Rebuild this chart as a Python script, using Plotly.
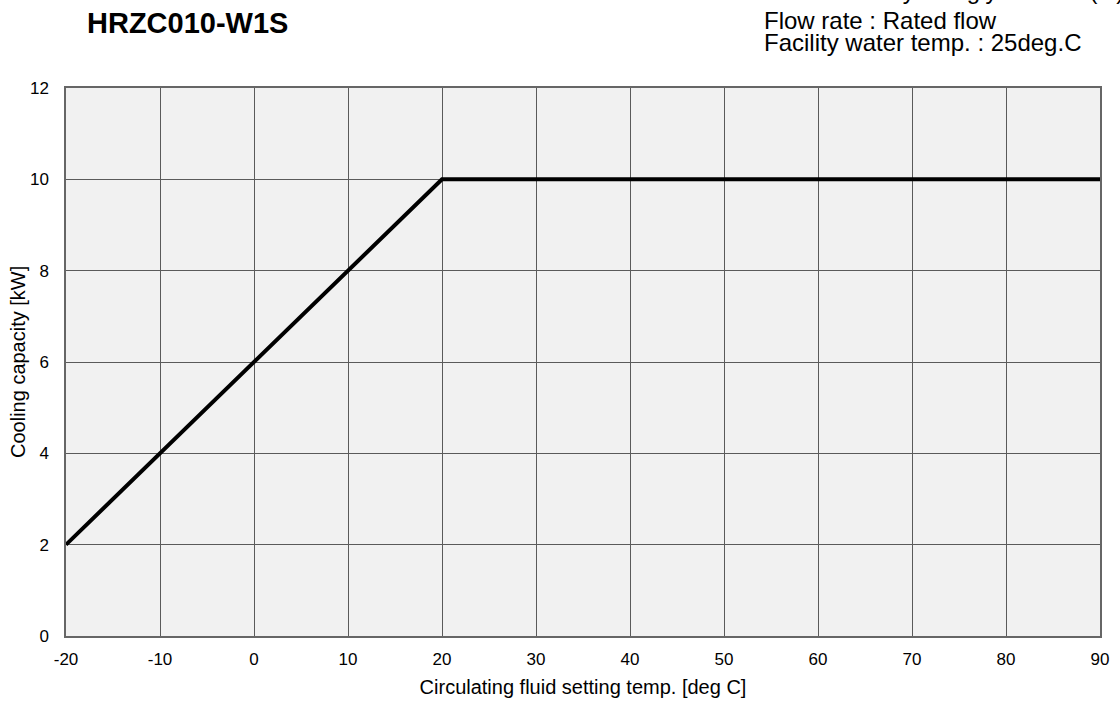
import plotly.graph_objects as go

# Data
temp_c = [-20, 20, 90]
capacity_kw = [2, 10, 10]
x_ticks = [-20, -10, 0, 10, 20, 30, 40, 50, 60, 70, 80, 90]
y_ticks = [0, 2, 4, 6, 8, 10, 12]

title_text = "HRZC010-W1S"
cond_lines = [
    "Coolant : Ethylene glycol 15% (G)",
    "Flow rate : Rated flow",
    "Facility water temp. : 25deg.C",
]

FONT = "Arial, Liberation Sans, sans-serif"

fig = go.Figure()
fig.add_trace(go.Scatter(
    x=temp_c, y=capacity_kw, mode="lines",
    line=dict(color="black", width=4),
    showlegend=False, hoverinfo="skip",
))

W, H = 1120, 707
ml, mr, mt, mb = 66, 20, 88, 71

fig.update_layout(
    width=W, height=H,
    margin=dict(l=ml, r=mr, t=mt, b=mb, autoexpand=False),
    paper_bgcolor="white",
    plot_bgcolor="#f1f1f1",
    font=dict(family=FONT, color="black", size=17),
    xaxis=dict(
        range=[-20, 90], tickvals=x_ticks, ticktext=[str(v) for v in x_ticks],
        showgrid=True, gridcolor="#5a5a5a", gridwidth=1,
        zeroline=False, showline=True, linecolor="#666666", linewidth=1.5, mirror=True,
        ticks="", ticklabelstandoff=7, automargin=False,
        tickfont=dict(size=17),
        title=dict(text="Circulating fluid setting temp. [deg C]", font=dict(size=20), standoff=12),
    ),
    yaxis=dict(
        range=[0, 12], tickvals=y_ticks, ticktext=[str(v) for v in y_ticks],
        showgrid=True, gridcolor="#5a5a5a", gridwidth=1,
        zeroline=False, showline=True, linecolor="#666666", linewidth=1.5, mirror=True,
        ticks="", ticklabelstandoff=12, automargin=False,
        tickfont=dict(size=17),
        title=dict(text="", font=dict(size=20)),
    ),
)

def py(ypix):
    return 1 + (mt - ypix) / (H - mt - mb)

def px(xpix):
    return (xpix - ml) / (W - ml - mr)

annotations = [
    dict(text="<b>" + title_text + "</b>", xref="paper", yref="paper",
         x=px(85), y=py(23), xanchor="left", yanchor="middle",
         showarrow=False, font=dict(family=FONT, size=29, color="black")),
    dict(text="Cooling capacity [kW]", xref="paper", yref="paper",
         x=px(18), y=py(362), xanchor="center", yanchor="middle", textangle=-90,
         showarrow=False, font=dict(family=FONT, size=20, color="black")),
]
line_centers = [-9, 20, 43]
for txt, yc in zip(cond_lines, line_centers):
    annotations.append(dict(
        text=txt, xref="paper", yref="paper",
        x=px(762), y=py(yc), xanchor="left", yanchor="middle",
        showarrow=False, font=dict(family=FONT, size=24, color="black"),
    ))
fig.update_layout(annotations=annotations)

fig.write_html(
    "out.html",
    config={"displayModeBar": False},
    post_script="document.body.style.margin='0';document.body.style.overflow='hidden';",
)
